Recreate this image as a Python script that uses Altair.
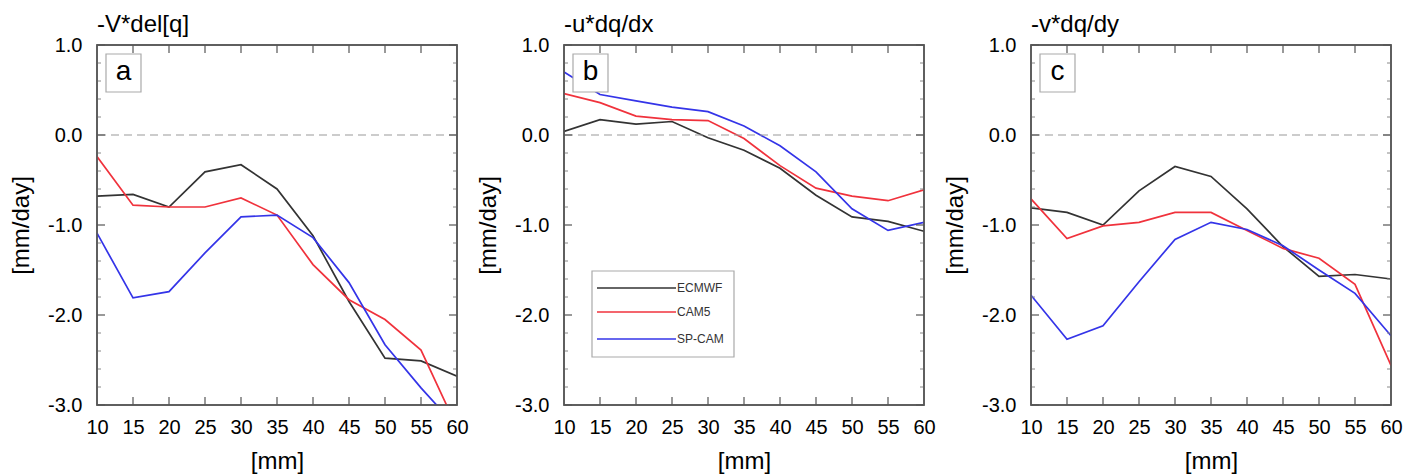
import altair as alt
import pandas as pd

FONT = "Liberation Sans"

x_vals = [10, 15, 20, 25, 30, 35, 40, 45, 50, 55, 60]
series_names = ["ECMWF", "CAM5", "SP-CAM"]
series_colors = ["#333333", "#f0323c", "#3434e8"]
panel_titles = ["-V*del[q]", "-u*dq/dx", "-v*dq/dy"]
panel_letters = ["a", "b", "c"]
y_major = [-3, -2, -1, 0, 1]
y_minor = [-2.8, -2.6, -2.4, -2.2, -1.8, -1.6, -1.4, -1.2, -0.8, -0.6, -0.4, -0.2,
           0.2, 0.4, 0.6, 0.8]

# panel a: -V*del[q]
a_ecmwf = [-0.68, -0.66, -0.80, -0.41, -0.33, -0.60, -1.12, -1.85, -2.48, -2.51, -2.68]
a_cam5 = [-0.24, -0.78, -0.80, -0.80, -0.70, -0.89, -1.44, -1.83, -2.05, -2.39, -3.25]
a_spcam = [-1.09, -1.81, -1.74, -1.31, -0.91, -0.89, -1.14, -1.64, -2.33, -2.81, -3.25]

# panel b: -u*dq/dx
b_ecmwf = [0.04, 0.17, 0.12, 0.15, -0.03, -0.17, -0.37, -0.67, -0.91, -0.96, -1.07]
b_cam5 = [0.46, 0.36, 0.21, 0.17, 0.16, -0.04, -0.34, -0.59, -0.68, -0.73, -0.61]
b_spcam = [0.70, 0.45, 0.38, 0.31, 0.26, 0.10, -0.12, -0.41, -0.82, -1.06, -0.97]

# panel c: -v*dq/dy
c_ecmwf = [-0.81, -0.86, -1.00, -0.62, -0.35, -0.46, -0.82, -1.24, -1.57, -1.55, -1.60]
c_cam5 = [-0.71, -1.15, -1.01, -0.97, -0.86, -0.86, -1.06, -1.26, -1.37, -1.66, -2.56]
c_spcam = [-1.78, -2.27, -2.12, -1.63, -1.16, -0.97, -1.05, -1.23, -1.50, -1.76, -2.23]

panels_data = [
    [a_ecmwf, a_cam5, a_spcam],
    [b_ecmwf, b_cam5, b_spcam],
    [c_ecmwf, c_cam5, c_spcam],
]

W = 360
H = 360
FRAME = "#555555"


def make_panel(idx, show_legend):
    rows = []
    for name, vals in zip(series_names, panels_data[idx]):
        for xv, yv in zip(x_vals, vals):
            rows.append({"x": xv, "y": yv, "series": name})
    df = pd.DataFrame(rows)

    xs = alt.Scale(domain=[10, 60], nice=False, zero=False)
    ys = alt.Scale(domain=[-3, 1], nice=False, zero=False)

    xaxis = alt.Axis(values=x_vals, title="[mm]", labelFontSize=20, titleFontSize=24,
                     labelFont=FONT, titleFont=FONT, titleFontWeight="normal",
                     labelColor="black", titleColor="black", ticks=False, domain=False,
                     grid=False, labelPadding=12, titlePadding=12, labelFlush=False,
                     labelOverlap=False)
    yaxis = alt.Axis(values=y_major, title="[mm/day]", labelFontSize=20, titleFontSize=24,
                     labelFont=FONT, titleFont=FONT, titleFontWeight="normal",
                     labelColor="black", titleColor="black", ticks=False, domain=False,
                     grid=False, labelPadding=15, titlePadding=14, labelFlush=False,
                     labelOverlap=False,
                     labelExpr="datum.value < 0 ? '-' + format(-datum.value, '.1f') : format(datum.value, '.1f')")

    lines = alt.Chart(df).mark_line(strokeWidth=1.7, clip=True).encode(
        x=alt.X("x:Q", scale=xs, axis=xaxis),
        y=alt.Y("y:Q", scale=ys, axis=yaxis),
        color=alt.Color("series:N", scale=alt.Scale(domain=series_names, range=series_colors),
                        legend=None),
    )

    zero = alt.Chart(pd.DataFrame({"v": [0]})).mark_rule(
        color="#9a9a9a", strokeDash=[8, 5], strokeWidth=1.2
    ).encode(y=alt.Y("v:Q", scale=ys, axis=yaxis))

    ymaj = pd.DataFrame({"v": y_major})
    ymin = pd.DataFrame({"v": y_minor})
    xmaj = pd.DataFrame({"v": x_vals[1:-1]})
    tick_layers = [
        alt.Chart(ymaj).mark_rule(color=FRAME, strokeWidth=1.2).encode(
            y=alt.Y("v:Q", scale=ys, axis=yaxis), x=alt.value(0), x2=alt.value(8)),
        alt.Chart(ymaj).mark_rule(color=FRAME, strokeWidth=1.2).encode(
            y=alt.Y("v:Q", scale=ys, axis=yaxis), x=alt.value(W), x2=alt.value(W - 8)),
        alt.Chart(ymin).mark_rule(color="#888888", strokeWidth=1).encode(
            y=alt.Y("v:Q", scale=ys, axis=yaxis), x=alt.value(0), x2=alt.value(4)),
        alt.Chart(ymin).mark_rule(color="#888888", strokeWidth=1).encode(
            y=alt.Y("v:Q", scale=ys, axis=yaxis), x=alt.value(W), x2=alt.value(W - 4)),
        alt.Chart(xmaj).mark_rule(color=FRAME, strokeWidth=1.2).encode(
            x=alt.X("v:Q", scale=xs, axis=xaxis), y=alt.value(0), y2=alt.value(8)),
        alt.Chart(xmaj).mark_rule(color=FRAME, strokeWidth=1.2).encode(
            x=alt.X("v:Q", scale=xs, axis=xaxis), y=alt.value(H), y2=alt.value(H - 8)),
    ]

    lab_df = pd.DataFrame({"letter": [panel_letters[idx]]})
    box = alt.Chart(lab_df).mark_rect(fill="white", stroke="#aaaaaa", strokeWidth=1.2).encode(
        x=alt.value(9), x2=alt.value(44), y=alt.value(9), y2=alt.value(47))
    letter = alt.Chart(lab_df).mark_text(font=FONT, fontSize=28, color="black",
                                         baseline="middle", align="center").encode(
        x=alt.value(26.5), y=alt.value(27), text="letter:N")
    frame = alt.Chart(lab_df).mark_rect(fillOpacity=0, stroke=FRAME, strokeWidth=1.5).encode(
        x=alt.value(0), x2=alt.value(W), y=alt.value(0), y2=alt.value(H))

    layers = [lines, zero] + tick_layers + [box, letter]

    if show_legend:
        leg_box = alt.Chart(pd.DataFrame({"k": [1]})).mark_rect(
            fill="white", stroke="#aaaaaa", strokeWidth=1.2).encode(
            x=alt.value(28), x2=alt.value(170), y=alt.value(226), y2=alt.value(312))
        layers.append(leg_box)
        for i, (name, col) in enumerate(zip(series_names, series_colors)):
            ypix = [243, 267, 294][i]
            ldf = pd.DataFrame({"series": [name]})
            layers.append(alt.Chart(ldf).mark_rule(color=col, strokeWidth=1.7).encode(
                x=alt.value(33), x2=alt.value(112), y=alt.value(ypix)))
            layers.append(alt.Chart(ldf).mark_text(font=FONT, fontSize=12, color="#333333",
                                                   align="left", baseline="middle").encode(
                x=alt.value(113), y=alt.value(ypix), text="series:N"))

    layers.append(frame)

    return alt.layer(*layers).properties(
        width=W, height=H,
        view=alt.ViewBackground(stroke=FRAME, strokeWidth=1.5),
        title=alt.TitleParams(panel_titles[idx], anchor="start", frame="group", fontSize=24,
                              font=FONT, fontWeight="normal", color="black", offset=-2),
    )


chart = alt.hconcat(
    make_panel(0, False), make_panel(1, True), make_panel(2, False),
    spacing=107, bounds="flush",
).properties(
    padding={"left": 8, "top": 12, "right": 5, "bottom": 2}
).configure_view(
    stroke=FRAME, strokeWidth=1.5
).configure(background="white")

chart.save("out.html", embed_options={"renderer": "svg", "actions": False})
